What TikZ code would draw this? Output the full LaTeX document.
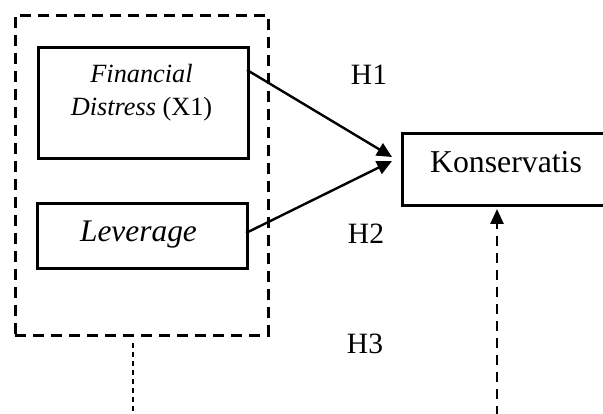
\documentclass[tikz,border=0pt]{standalone}
\usepackage{fontspec}
\setmainfont{Liberation Serif}
\usetikzlibrary{arrows.meta}
\begin{document}
\begin{tikzpicture}[x=1pt,y=-1pt,
  boxnode/.style={draw,line width=2.6pt,inner sep=0pt,anchor=north west},
  lbl/.style={inner sep=0pt,anchor=base},
  arr/.style={line width=2.4pt,-{Triangle[length=15pt,width=14pt]}},
  outerdash/.style={line width=2.8pt,dash pattern=on 11pt off 7pt},
  thindash/.style={line width=1.3pt,dash pattern=on 5pt off 4pt},
  updash/.style={line width=2.6pt,dash pattern=on 10pt off 7pt,-{Triangle[length=15pt,width=13pt]}}]
\useasboundingbox (0,0) rectangle (603,414);
% outer dashed group
\node[draw,outerdash,inner sep=0pt,anchor=north west,minimum width=253pt,minimum height=320pt] (grp) at (14,14) {};
% boxes
\node[boxnode,minimum width=210pt,minimum height=111pt] (fd) at (37,46) {};
\node[boxnode,minimum width=210pt,minimum height=65pt] (lev) at (36,202) {};
\node[boxnode,minimum width=210pt,minimum height=72pt] (kon) at (401,132) {};
% texts
\node[lbl,font=\fontsize{26.3}{30}\selectfont\itshape] (t1) at (141.5,83) {Financial};
\node[lbl,font=\fontsize{26.3}{30}\selectfont] (t2) at (141.5,116) {\textit{Distress} (X1)};
\node[lbl,font=\fontsize{31.4}{36}\selectfont\itshape] (t3) at (138.5,242) {Leverage};
\node[lbl,font=\fontsize{31.8}{36}\selectfont] (t4) at (506,173) {Konservatis};
\node[lbl,font=\fontsize{29.5}{34}\selectfont] (h1) at (369,85) {H1};
\node[lbl,font=\fontsize{29.5}{34}\selectfont] (h2) at (366,244) {H2};
\node[lbl,font=\fontsize{29.5}{34}\selectfont] (h3) at (365,353) {H3};
% connectors
\coordinate (s1) at (247,70);
\coordinate (e1) at (392,157);
\coordinate (s2) at (246,233);
\coordinate (e2) at (392,161);
\draw[arr] (s1) -- (e1);
\draw[arr] (s2) -- (e2);
\coordinate (b1) at (133,343);
\coordinate (b1e) at (133,416);
\draw[thindash] (b1) -- (b1e);
\coordinate (b2) at (497,416);
\coordinate (b2e) at (497,209);
\draw[updash] (b2) -- (b2e);
\end{tikzpicture}
\end{document}
